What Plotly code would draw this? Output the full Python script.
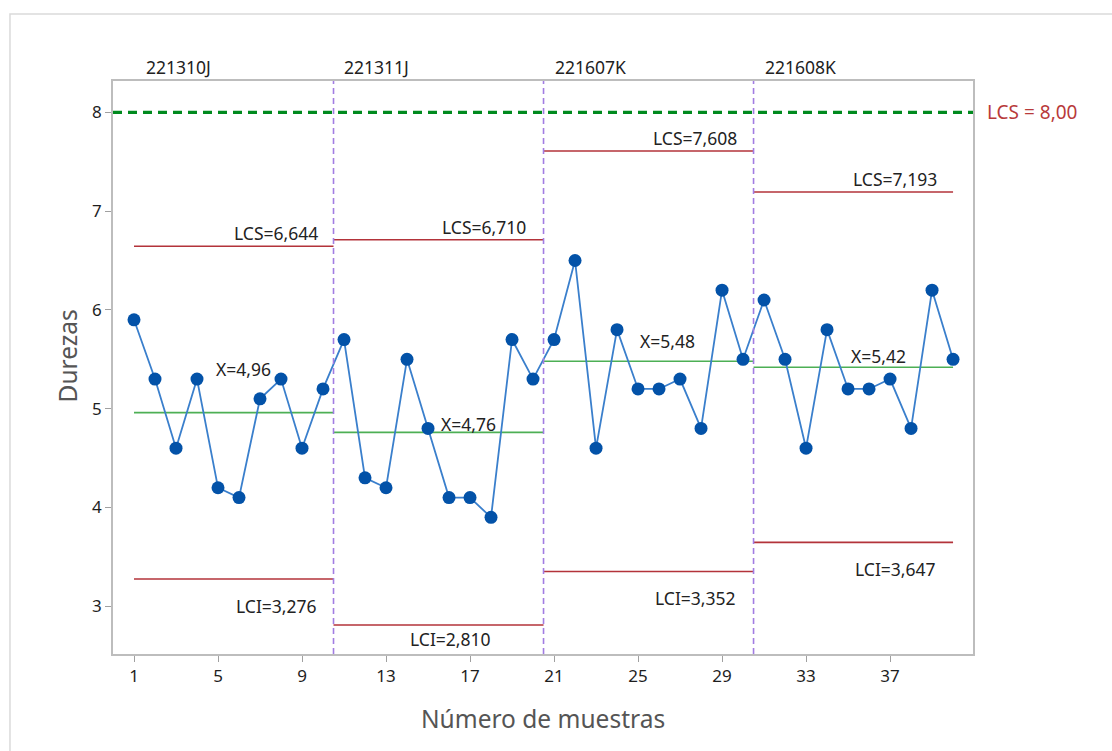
import plotly.graph_objects as go

# ---- data ----
samples = list(range(1, 41))
durezas = [5.9, 5.3, 4.6, 5.3, 4.2, 4.1, 5.1, 5.3, 4.6, 5.2,
           5.7, 4.3, 4.2, 5.5, 4.8, 4.1, 4.1, 3.9, 5.7, 5.3,
           5.7, 6.5, 4.6, 5.8, 5.2, 5.2, 5.3, 4.8, 6.2, 5.5,
           6.1, 5.5, 4.6, 5.8, 5.2, 5.2, 5.3, 4.8, 6.2, 5.5]
group_names = ["221310J", "221311J", "221607K", "221608K"]
group_size = 10
lcs_vals = [6.644, 6.710, 7.608, 7.193]
lci_vals = [3.276, 2.810, 3.352, 3.647]
center_vals = [4.96, 4.76, 5.48, 5.42]
spec_limit = 8.00
x_ticks = [1, 5, 9, 13, 17, 21, 25, 29, 33, 37]
y_ticks = [3, 4, 5, 6, 7, 8]

FONT = "Noto Sans"
RED = "#B3333A"
GREEN = "#4DAF55"

# group extents
starts, ends = [], []
for g in range(len(group_names)):
    first = samples[g * group_size]
    last = samples[g * group_size + group_size - 1]
    starts.append(first if g == 0 else first - 0.5)
    ends.append(last + 0.5 if g < len(group_names) - 1 else last)

def segs(vals):
    xs, ys = [], []
    for s, e, v in zip(starts, ends, vals):
        xs += [s, e, None]
        ys += [v, v, None]
    return xs, ys

fig = go.Figure()

# spec limit
fig.add_trace(go.Scatter(x=[0, 41], y=[spec_limit, spec_limit], mode="lines",
                         line=dict(color="#008A1E", width=3.2, dash="9px,6px"),
                         hoverinfo="skip", showlegend=False))

for vals, col in [(lcs_vals, RED), (lci_vals, RED), (center_vals, GREEN)]:
    xs, ys = segs(vals)
    fig.add_trace(go.Scatter(x=xs, y=ys, mode="lines", line=dict(color=col, width=1.6),
                             hoverinfo="skip", showlegend=False))

fig.add_trace(go.Scatter(x=samples, y=durezas, mode="lines+markers",
                         line=dict(color="#3A7FCC", width=1.8),
                         marker=dict(color="#0352A8", size=13, symbol="circle"),
                         showlegend=False))

# group boundaries
shapes = []
for e in ends[:-1]:
    shapes.append(dict(type="line", xref="x", yref="paper", x0=e, x1=e, y0=0, y1=1,
                       line=dict(color="#A27DE2", width=1.6, dash="6px,4px")))
# outer frame
shapes.append(dict(type="rect", xref="paper", yref="paper", x0=-0.1198, x1=1.3, y0=-0.3, y1=1.1169,
                   line=dict(color="#DADADA", width=1.5), layer="below"))

ann = []
txt = dict(family=FONT, size=17.5, color="#222222")
def fmt(v, d=3):
    return f"{v:.{d}f}".replace(".", ",")

lcs_x = [9.857, 19.76, 29.81, 39.33]
lci_x = [9.81, 18.1, 29.76, 39.29]
lci_y = [3.0, 2.665, 3.08, 3.375]
cen_x = [6.21, 16.95, 26.38, 36.45]
cen_y = [5.40, 4.85, 5.69, 5.53]
grp_x = [1.48, 10.9, 20.93, 30.95]

for i in range(4):
    ann.append(dict(x=lcs_x[i], y=lcs_vals[i], text="LCS=" + fmt(lcs_vals[i]), xanchor="right",
                    yanchor="bottom", showarrow=False, font=txt, yshift=-1))
    ann.append(dict(x=lci_x[i], y=lci_y[i], text="LCI=" + fmt(lci_vals[i]), xanchor="right",
                    yanchor="middle", showarrow=False, font=txt))
    ann.append(dict(x=cen_x[i], y=cen_y[i], text="X=" + fmt(center_vals[i], 2), xanchor="center",
                    yanchor="middle", showarrow=False, font=txt))
    ann.append(dict(x=grp_x[i], y=1.0, yref="paper", text=group_names[i], xanchor="left",
                    yanchor="bottom", yshift=0, showarrow=False, font=txt))

ann.append(dict(x=1.014, xref="paper", y=spec_limit, text="LCS = " + fmt(spec_limit, 2),
                xanchor="left", yanchor="middle", showarrow=False,
                font=dict(family=FONT, size=19, color="#B83A3A")))
ann.append(dict(x=0.5, xref="paper", y=-0.1117, yref="paper", text="Número de muestras",
                xanchor="center", yanchor="middle", showarrow=False,
                font=dict(family=FONT, size=24.5, color="#555555")))
ann.append(dict(x=-0.053, xref="paper", y=0.52, yref="paper", text="Durezas", textangle=-90,
                xanchor="center", yanchor="middle", showarrow=False,
                font=dict(family=FONT, size=24.5, color="#555555")))

fig.update_layout(
    width=1112, height=751,
    margin=dict(l=113, r=139, t=81, b=97),
    paper_bgcolor="white", plot_bgcolor="white",
    shapes=shapes, annotations=ann,
    font=dict(family=FONT),
)
fig.update_xaxes(range=[0, 40.95], tickvals=x_ticks, showgrid=False, zeroline=False,
                 showline=True, linecolor="#BDBDBD", linewidth=1.5, mirror=True,
                 ticks="outside", ticklen=6, tickcolor="#A0A0A0",
                 tickfont=dict(family=FONT, size=17, color="#1E1E1E"))
fig.update_yaxes(range=[2.517, 8.317], tickvals=y_ticks, showgrid=False, zeroline=False,
                 showline=True, linecolor="#BDBDBD", linewidth=1.5, mirror=True,
                 ticks="outside", ticklen=6, tickcolor="#A0A0A0",
                 tickfont=dict(family=FONT, size=17, color="#1E1E1E"))

fig.write_html("out.html", config={"displayModeBar": False},
               post_script="document.body.style.margin='0';document.body.style.overflow='hidden';")
